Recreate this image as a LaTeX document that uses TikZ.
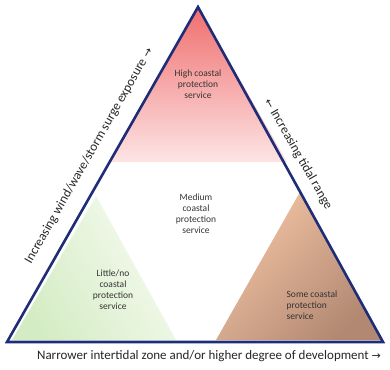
\documentclass[tikz,border=0pt]{standalone}
\usepackage{fontspec}
\setmainfont{Carlito}
\newfontfamily\symfont{DejaVu Sans}
\newcommand\myarr[1]{{\symfont\fontsize{11}{12}\selectfont #1}}
\begin{document}
\begin{tikzpicture}[x=1pt,y=-1pt,
  inner/.style={font=\fontsize{9.5}{11}\selectfont, text=black!80, align=center, inner sep=1pt},
  axislabel/.style={font=\fontsize{13}{14}\selectfont, text=black!85, inner sep=1pt}]
\useasboundingbox (0,0) rectangle (390,369);
\definecolor{navy}{RGB}{31,45,120}
\definecolor{redtop}{RGB}{240,110,110}
\definecolor{redbot}{RGB}{253,228,228}
\definecolor{greenA}{RGB}{212,236,196}
\definecolor{greenB}{RGB}{246,251,240}
\definecolor{brownA}{RGB}{242,196,164}
\definecolor{brownM}{RGB}{236,188,156}
\definecolor{brownB}{RGB}{178,136,114}
% red top region
\shade[top color=redtop, bottom color=redbot] (198,7) -- (109,162) -- (287,162) -- cycle;
% green region
\shade[left color=greenA, right color=greenB, shading angle=120] (96,196) -- (12,340) -- (176,340) -- cycle;
% brown region
\shade[left color=brownA, middle color=brownM, right color=brownB, shading angle=45] (300,192) -- (216,340) -- (382,340) -- cycle;
% outer triangle
\coordinate (A) at (198,7);
\coordinate (B) at (7,342);
\coordinate (C) at (383,342);
\draw[navy, line width=2.6pt, line join=miter] (A) -- (B) -- (C) -- cycle;
% texts
\node[inner] (high) at (198,84) {High coastal\\protection\\service};
\node[inner] (med) at (196,214) {Medium\\coastal\\protection\\service};
\node[inner] (low) at (113,290) {Little/no\\coastal\\protection\\service};
\node[inner, align=left] (some) at (312,305) {Some coastal\\protection\\service};
\node[axislabel, rotate=60.3] (left) at (89,156) {Increasing wind/wave/storm surge exposure \myarr{→}};
\node[axislabel, rotate=-60.3] (right) at (298,154) {\myarr{←} Increasing tidal range};
\node[axislabel] (bottom) at (209,356) {Narrower intertidal zone and/or higher degree of development \myarr{→}};
\end{tikzpicture}
\end{document}
